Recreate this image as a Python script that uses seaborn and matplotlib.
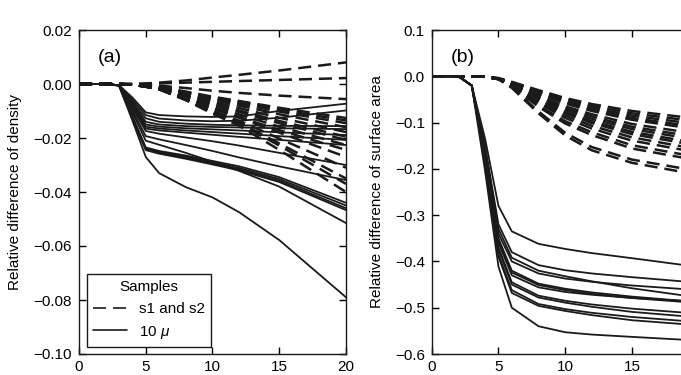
import pandas as pd
import seaborn as sns
import matplotlib.pyplot as plt
from matplotlib.lines import Line2D

# time steps at which every curve is sampled
steps = [0, 2, 3, 4, 5, 6, 8, 10, 12, 15, 20]

# panel (a): relative difference of density
density_s1s2 = [
    [0, 0, 0, 0, 0.0002, 0.0005, 0.0013, 0.0024, 0.0034, 0.0050, 0.0080],
    [0, 0, 0, 0, 0.0001, 0.0002, 0.0005, 0.0008, 0.0011, 0.0015, 0.0022],
    [0, 0, 0, -0.0001, -0.0003, -0.0006, -0.0015, -0.0025, -0.0033, -0.0043, -0.0056],
    [0, 0, 0, -0.0001, -0.0005, -0.0010, -0.0028, -0.0047, -0.0063, -0.0088, -0.0126],
    [0, 0, 0, -0.0001, -0.0005, -0.0011, -0.0030, -0.0050, -0.0068, -0.0095, -0.0135],
    [0, 0, 0, -0.0001, -0.0006, -0.0012, -0.0032, -0.0054, -0.0073, -0.0102, -0.0145],
    [0, 0, 0, -0.0002, -0.0006, -0.0013, -0.0035, -0.0059, -0.0080, -0.0112, -0.0160],
    [0, 0, 0, -0.0002, -0.0007, -0.0014, -0.0039, -0.0066, -0.0089, -0.0125, -0.0178],
    [0, 0, 0, -0.0002, -0.0008, -0.0016, -0.0043, -0.0072, -0.0098, -0.0137, -0.0195],
    [0, 0, 0, -0.0002, -0.0008, -0.0017, -0.0046, -0.0077, -0.0104, -0.0145, -0.0207],
    [0, 0, 0, -0.0002, -0.0009, -0.0018, -0.0050, -0.0084, -0.0113, -0.0158, -0.0226],
    [0, 0, 0, -0.0002, -0.0010, -0.0020, -0.0054, -0.0090, -0.0122, -0.0171, -0.0244],
    [0, 0, 0, -0.0002, -0.0009, -0.0018, -0.0052, -0.0090, -0.0125, -0.0180, -0.0270],
    [0, 0, 0, -0.0003, -0.0010, -0.0019, -0.0056, -0.0098, -0.0136, -0.0202, -0.0310],
    [0, 0, 0, -0.0003, -0.0010, -0.0019, -0.0058, -0.0103, -0.0143, -0.0220, -0.0350],
    [0, 0, 0, -0.0003, -0.0010, -0.0019, -0.0058, -0.0105, -0.0147, -0.0228, -0.0370],
    [0, 0, 0, -0.0003, -0.0010, -0.0020, -0.0060, -0.0110, -0.0155, -0.0244, -0.0400],
]
density_10mu = [
    [0, 0, -0.0005, -0.0050, -0.0105, -0.0115, -0.0120, -0.0122, -0.0120, -0.0100, -0.0073],
    [0, 0, -0.0005, -0.0058, -0.0115, -0.0128, -0.0135, -0.0138, -0.0136, -0.0125, -0.0098],
    [0, 0, -0.0005, -0.0065, -0.0127, -0.0140, -0.0147, -0.0151, -0.0153, -0.0155, -0.0156],
    [0, 0, -0.0005, -0.0070, -0.0140, -0.0150, -0.0156, -0.0159, -0.0161, -0.0164, -0.0167],
    [0, 0, -0.0005, -0.0075, -0.0150, -0.0158, -0.0164, -0.0168, -0.0172, -0.0179, -0.0189],
    [0, 0, -0.0005, -0.0080, -0.0158, -0.0165, -0.0172, -0.0178, -0.0184, -0.0193, -0.0207],
    [0, 0, -0.0005, -0.0082, -0.0165, -0.0172, -0.0180, -0.0188, -0.0196, -0.0207, -0.0226],
    [0, 0, -0.0005, -0.0088, -0.0174, -0.0184, -0.0198, -0.0212, -0.0228, -0.0255, -0.0300],
    [0, 0, -0.0005, -0.0098, -0.0193, -0.0205, -0.0226, -0.0248, -0.0272, -0.0305, -0.0356],
    [0, 0, -0.0005, -0.0105, -0.0210, -0.0225, -0.0255, -0.0288, -0.0322, -0.0380, -0.0515],
    [0, 0, -0.0005, -0.0120, -0.0235, -0.0248, -0.0265, -0.0285, -0.0305, -0.0345, -0.0440],
    [0, 0, -0.0005, -0.0122, -0.0238, -0.0251, -0.0269, -0.0290, -0.0311, -0.0352, -0.0450],
    [0, 0, -0.0005, -0.0124, -0.0242, -0.0255, -0.0273, -0.0294, -0.0316, -0.0358, -0.0460],
    [0, 0, -0.0005, -0.0126, -0.0245, -0.0258, -0.0277, -0.0298, -0.0320, -0.0363, -0.0467],
    [0, 0, -0.0007, -0.0135, -0.0270, -0.0330, -0.0382, -0.0420, -0.0475, -0.0578, -0.0790],
]

# panel (b): relative difference of surface area
area_s1s2 = [
    [0, 0, 0, -0.001, -0.004, -0.012, -0.030, -0.047, -0.060, -0.075, -0.092],
    [0, 0, 0, -0.001, -0.004, -0.013, -0.032, -0.050, -0.064, -0.080, -0.098],
    [0, 0, 0, -0.001, -0.005, -0.013, -0.034, -0.053, -0.068, -0.085, -0.104],
    [0, 0, 0, -0.001, -0.005, -0.014, -0.036, -0.056, -0.072, -0.090, -0.110],
    [0, 0, 0, -0.001, -0.005, -0.015, -0.038, -0.059, -0.075, -0.094, -0.115],
    [0, 0, 0, -0.001, -0.005, -0.016, -0.042, -0.065, -0.082, -0.103, -0.125],
    [0, 0, 0, -0.001, -0.006, -0.017, -0.045, -0.069, -0.087, -0.109, -0.132],
    [0, 0, 0, -0.001, -0.006, -0.018, -0.047, -0.073, -0.092, -0.114, -0.138],
    [0, 0, 0, -0.001, -0.006, -0.019, -0.050, -0.077, -0.097, -0.120, -0.145],
    [0, 0, 0, -0.001, -0.006, -0.019, -0.052, -0.080, -0.101, -0.125, -0.150],
    [0, 0, 0, -0.001, -0.006, -0.020, -0.055, -0.085, -0.107, -0.132, -0.158],
    [0, 0, 0, -0.001, -0.006, -0.021, -0.058, -0.090, -0.113, -0.139, -0.165],
    [0, 0, 0, -0.001, -0.006, -0.022, -0.063, -0.097, -0.121, -0.149, -0.175],
    [0, 0, 0, -0.001, -0.006, -0.022, -0.066, -0.102, -0.127, -0.156, -0.182],
    [0, 0, 0, -0.001, -0.006, -0.024, -0.076, -0.122, -0.153, -0.180, -0.205],
    [0, 0, 0, -0.001, -0.006, -0.025, -0.080, -0.128, -0.160, -0.187, -0.213],
]
area_10mu = [
    [0, 0, -0.020, -0.135, -0.280, -0.335, -0.362, -0.373, -0.382, -0.393, -0.412],
    [0, 0, -0.020, -0.150, -0.320, -0.380, -0.408, -0.419, -0.426, -0.434, -0.446],
    [0, 0, -0.020, -0.155, -0.330, -0.392, -0.420, -0.432, -0.443, -0.458, -0.478],
    [0, 0, -0.020, -0.160, -0.340, -0.400, -0.426, -0.437, -0.444, -0.452, -0.462],
    [0, 0, -0.020, -0.165, -0.350, -0.420, -0.448, -0.459, -0.467, -0.476, -0.488],
    [0, 0, -0.020, -0.167, -0.355, -0.424, -0.451, -0.462, -0.470, -0.479, -0.490],
    [0, 0, -0.020, -0.170, -0.360, -0.430, -0.456, -0.466, -0.472, -0.479, -0.487],
    [0, 0, -0.020, -0.175, -0.370, -0.445, -0.474, -0.485, -0.493, -0.502, -0.513],
    [0, 0, -0.020, -0.178, -0.375, -0.450, -0.478, -0.489, -0.498, -0.509, -0.521],
    [0, 0, -0.020, -0.182, -0.385, -0.462, -0.492, -0.503, -0.511, -0.520, -0.531],
    [0, 0, -0.020, -0.185, -0.390, -0.468, -0.496, -0.507, -0.516, -0.527, -0.538],
    [0, 0, -0.020, -0.205, -0.411, -0.500, -0.540, -0.553, -0.558, -0.563, -0.571],
]

legend_labels = ['s1 and s2', r'10 $\mu$']
DASH = (0, (9.4, 5.0))


def to_long(curves, group):
    rows = []
    for i, vals in enumerate(curves):
        for x, v in zip(steps, vals):
            rows.append({'step': x, 'value': v, 'curve': f'{group}-{i}'})
    return pd.DataFrame(rows)


def draw_panel(ax, dashed, solid, ylim, yticks, ylabel, tag):
    sns.lineplot(data=to_long(solid, 'solid'), x='step', y='value', units='curve',
                 estimator=None, color='k', lw=1.3, ax=ax, legend=False)
    sns.lineplot(data=to_long(dashed, 'dashed'), x='step', y='value', units='curve',
                 estimator=None, color='k', lw=1.8, linestyle=DASH, ax=ax, legend=False)
    ax.set_xlim(0, 20)
    ax.set_ylim(*ylim)
    ax.set_xticks([0, 5, 10, 15, 20])
    ax.set_yticks(yticks)
    ax.set_xlabel('')
    ax.set_ylabel(ylabel, fontsize=11, labelpad=8)
    ax.tick_params(direction='in', top=True, right=True, length=5, width=1,
                   labelsize=11, pad=5)
    ax.tick_params(axis='x', pad=4)
    for sp in ax.spines.values():
        sp.set_linewidth(1.0)
        sp.set_color('k')
    ax.text(0.07, 0.915, tag, transform=ax.transAxes, fontsize=14, va='center')


sns.set_theme(style='ticks')
plt.rcParams['font.family'] = ['Liberation Sans', 'DejaVu Sans']
plt.rcParams['mathtext.fontset'] = 'custom'
plt.rcParams['mathtext.it'] = 'Liberation Sans:italic'
plt.rcParams['mathtext.rm'] = 'Liberation Sans'
plt.rcParams['lines.scale_dashes'] = False
for key in ['axes.edgecolor', 'xtick.color', 'ytick.color', 'text.color', 'axes.labelcolor']:
    plt.rcParams[key] = 'black'

fig = plt.figure(figsize=(6.81, 3.75), dpi=100)
ax1 = fig.add_axes([79 / 681, 21 / 375, 267 / 681, 324 / 375])
ax2 = fig.add_axes([431.7 / 681, 21 / 375, 267 / 681, 324 / 375])

draw_panel(ax1, density_s1s2, density_10mu, (-0.10, 0.02),
           [0.02, 0.0, -0.02, -0.04, -0.06, -0.08, -0.10],
           'Relative difference of density', '(a)')
draw_panel(ax2, area_s1s2, area_10mu, (-0.6, 0.1),
           [0.1, 0.0, -0.1, -0.2, -0.3, -0.4, -0.5, -0.6],
           'Relative difference of surface area', '(b)')

handles = [Line2D([], [], color='k', lw=1.2, linestyle=DASH),
           Line2D([], [], color='k', lw=1.2)]
leg = ax1.legend(handles, legend_labels, title='Samples', loc='lower left',
                 bbox_to_anchor=(0.03, 0.022), borderaxespad=0, fontsize=11,
                 title_fontsize=11, handlelength=2.2, handletextpad=0.8,
                 fancybox=False, framealpha=1, edgecolor='k')
leg.get_frame().set_linewidth(1.0)

fig.savefig('out.png', dpi=100)
